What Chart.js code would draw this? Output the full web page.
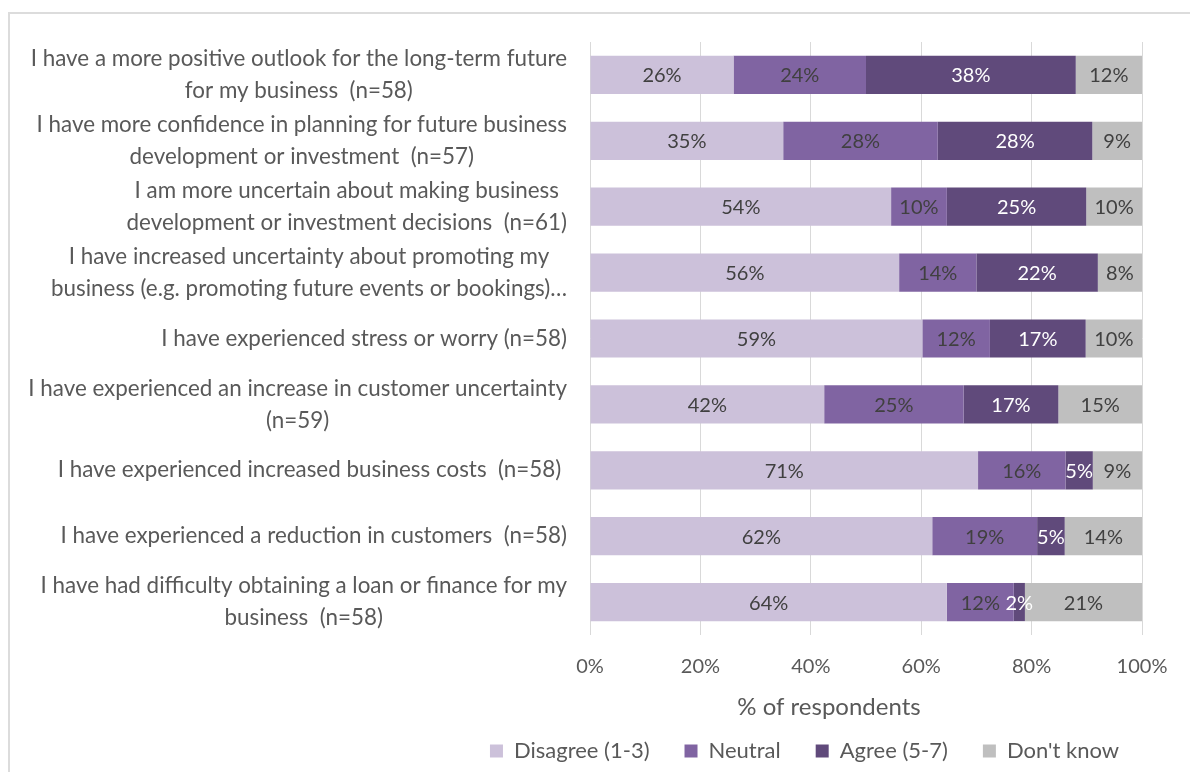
<!DOCTYPE html>
<html>
<head>
<meta charset="utf-8">
<script src="https://cdn.jsdelivr.net/npm/chart.js@4.4.1/dist/chart.umd.min.js"></script>
<style>
  body { margin: 0; background: #fff; }
  #marco { position: absolute; left: 8px; top: 12px; width: 1300px; height: 900px; border-left: 2px solid #dcdcdc; border-top: 2px solid #dcdcdc; }
  #caja { position: absolute; left: 0; top: 0; width: 1190px; height: 772px; }
</style>
</head>
<body>
<div id="marco"></div>
<div id="caja"><canvas id="grafica"></canvas></div>
<script>
const categorias = [
    ["I have a more positive outlook for the long-term future", "for my business  (n=58)"],
    ["I have more confidence in planning for future business", "development or investment  (n=57)"],
    ["I am more uncertain about making business", "development or investment decisions  (n=61)"],
    ["I have increased uncertainty about promoting my", "business (e.g. promoting future events or bookings)…"],
    ["I have experienced stress or worry (n=58)"],
    ["I have experienced an increase in customer uncertainty", "(n=59)"],
    ["I have experienced increased business costs  (n=58) "],
    ["I have experienced a reduction in customers  (n=58)"],
    ["I have had difficulty obtaining a loan or finance for my", "business  (n=58)"]
];

// porcentajes de cada respuesta por afirmación
const desacuerdo = [26, 35, 54, 56, 59, 42, 71, 62, 64];
const neutral = [24, 28, 10, 14, 12, 25, 16, 19, 12];
const acuerdo = [38, 28, 25, 22, 17, 17, 5, 5, 2];
const noSabe = [12, 9, 10, 8, 10, 15, 9, 14, 21];

const marcasX = [0, 20, 40, 60, 80, 100];
const tituloX = "% of respondents";

const fuente = "Lato, 'Open Sans', sans-serif";
const gris = "#595959";

// barra al 100%: cada fila se reparte sobre su total
const totales = desacuerdo.map((v, i) => v + neutral[i] + acuerdo[i] + noSabe[i]);
const aCien = serie => serie.map((v, i) => v / totales[i] * 100);

const serie = (label, valores, color, colorEtiqueta) => ({
    label: label,
    data: aCien(valores),
    valores: valores,
    backgroundColor: color,
    colorEtiqueta: colorEtiqueta,
    borderWidth: 0,
    barPercentage: 0.58,
    categoryPercentage: 1
});

// etiquetas de categoría (centradas entre sí) y título del eje
const textosLaterales = {
    id: 'textosLaterales',
    afterDraw(chart) {
        const { ctx, chartArea, scales } = chart;
        ctx.save();
        ctx.fillStyle = gris;
        ctx.textAlign = 'center';
        ctx.textBaseline = 'middle';
        ctx.font = "22.4px " + fuente;
        categorias.forEach((lineas, i) => {
            const cy = scales.y.getPixelForValue(i);
            const ancho = Math.max(...lineas.map(l => ctx.measureText(l).width));
            const cx = chartArea.left - 23 - ancho / 2;
            lineas.forEach((l, j) => {
                ctx.fillText(l, cx, cy + (j - (lineas.length - 1) / 2) * 32);
            });
        });
        ctx.font = "24px " + fuente;
        ctx.fillText(tituloX, (chartArea.left + chartArea.right) / 2 - 37, chartArea.bottom + 72);
        ctx.restore();
    }
};

// porcentaje dentro de cada segmento
const etiquetasSegmento = {
    id: 'etiquetasSegmento',
    afterDatasetsDraw(chart) {
        const { ctx } = chart;
        ctx.save();
        ctx.font = "20px " + fuente;
        ctx.textAlign = 'center';
        ctx.textBaseline = 'middle';
        chart.data.datasets.forEach((ds, d) => {
            ctx.fillStyle = ds.colorEtiqueta;
            chart.getDatasetMeta(d).data.forEach((barra, i) => {
                ctx.fillText(ds.valores[i] + "%", (barra.x + barra.base) / 2, barra.y + 1);
            });
        });
        ctx.restore();
    }
};

new Chart(document.querySelector("#grafica"), {
    type: 'bar',
    data: {
        labels: categorias,
        datasets: [
            serie("Disagree (1-3)", desacuerdo, "#ccc1da", "#404040"),
            serie("Neutral", neutral, "#8064a2", "#404040"),
            serie("Agree (5-7)", acuerdo, "#604a7b", "#ffffff"),
            serie("Don't know", noSabe, "#bfbfbf", "#404040")
        ]
    },
    options: {
        indexAxis: 'y',
        responsive: true,
        maintainAspectRatio: false,
        animation: false,
        layout: { padding: { left: 439, right: 20, top: 42, bottom: 0 } },
        scales: {
            x: {
                stacked: true,
                min: 0,
                max: 100,
                afterBuildTicks: s => { s.ticks = marcasX.map(v => ({ value: v })); },
                afterFit: s => { s.height = 70; },
                ticks: {
                    callback: v => v + "%",
                    font: { family: fuente, size: 20 },
                    color: gris,
                    padding: 20
                },
                grid: { color: "#d9d9d9", drawTicks: false },
                border: { display: false }
            },
            y: {
                stacked: true,
                afterFit: s => { s.width = 151; },
                ticks: { display: false },
                grid: { display: false },
                border: { display: false }
            },
            // margen derecho vacío
            derecha: {
                type: 'category',
                position: 'right',
                afterFit: s => { s.width = 28; },
                ticks: { display: false },
                grid: { display: false },
                border: { display: false }
            }
        },
        plugins: {
            legend: {
                position: 'bottom',
                labels: {
                    font: { family: fuente, size: 22 },
                    color: gris,
                    boxWidth: 13,
                    boxHeight: 13,
                    padding: 35
                }
            },
            tooltip: { enabled: false }
        }
    },
    plugins: [textosLaterales, etiquetasSegmento]
});
</script>
</body>
</html>
